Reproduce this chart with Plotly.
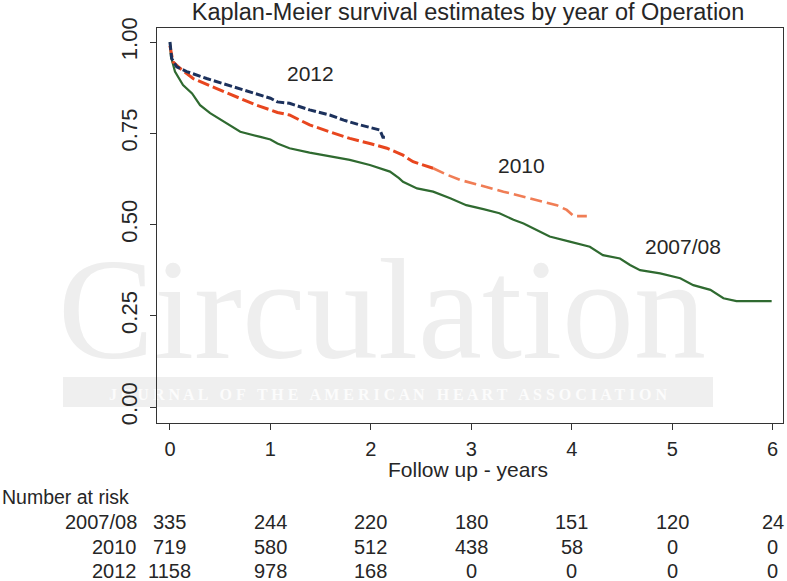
import plotly.graph_objects as go

# ---------------- data ----------------
t_0708 = [0, 0.01, 0.05, 0.13, 0.22, 0.30, 0.40, 0.53, 0.70, 0.90, 1.00, 1.07, 1.19, 1.39, 1.59,
          1.79, 1.99, 2.19, 2.28, 2.32, 2.46, 2.62, 2.79, 2.95, 3.12, 3.28, 3.42, 3.52, 3.65, 3.78,
          3.98, 4.18, 4.31, 4.48, 4.58, 4.68, 4.88, 5.08, 5.21, 5.38, 5.51, 5.64, 5.99]
s_0708 = [1.0, 0.96, 0.919, 0.882, 0.859, 0.827, 0.805, 0.782, 0.754, 0.740, 0.733, 0.722, 0.709,
          0.697, 0.686, 0.677, 0.663, 0.645, 0.627, 0.617, 0.599, 0.590, 0.572, 0.553, 0.542, 0.531,
          0.513, 0.503, 0.485, 0.467, 0.453, 0.439, 0.416, 0.407, 0.389, 0.375, 0.366, 0.353, 0.334,
          0.321, 0.298, 0.290, 0.290]

t_2010 = [0, 0.03, 0.10, 0.23, 0.46, 0.66, 0.86, 1.00, 1.07, 1.19, 1.39, 1.59, 1.79, 1.99, 2.16,
          2.28, 2.32, 2.42, 2.52, 2.62, 2.76, 2.89, 3.02, 3.15, 3.32, 3.45, 3.58, 3.72, 3.85, 3.95,
          4.02, 4.15]
s_2010 = [0.99, 0.946, 0.928, 0.900, 0.873, 0.850, 0.827, 0.814, 0.807, 0.800, 0.773, 0.754, 0.736,
          0.722, 0.709, 0.695, 0.690, 0.672, 0.663, 0.654, 0.636, 0.622, 0.613, 0.603, 0.590, 0.580,
          0.572, 0.562, 0.553, 0.540, 0.523, 0.523]

t_2012 = [0, 0.017, 0.067, 0.166, 0.365, 0.63, 0.86, 1.00, 1.07, 1.19, 1.39, 1.59, 1.73, 1.89,
          2.09, 2.12, 2.14]
s_2012 = [1.0, 0.955, 0.932, 0.919, 0.900, 0.877, 0.859, 0.846, 0.836, 0.832, 0.814, 0.800, 0.786,
          0.773, 0.759, 0.739, 0.739]

x_ticks = [0, 1, 2, 3, 4, 5, 6]
y_ticks = [0.0, 0.25, 0.5, 0.75, 1.0]
y_tick_labels = ["0.00", "0.25", "0.50", "0.75", "1.00"]

risk_groups = ["2007/08", "2010", "2012"]
risk_0708 = [335, 244, 220, 180, 151, 120, 24]
risk_2010 = [719, 580, 512, 438, 58, 0, 0]
risk_2012 = [1158, 978, 168, 0, 0, 0, 0]

curve_labels = ["2012", "2010", "2007/08"]
curve_label_x = [1.40, 3.50, 5.11]
curve_label_y = [0.915, 0.663, 0.441]

title_text = "Kaplan-Meier survival estimates by year of Operation"
xaxis_title = "Follow up - years"

# ---------------- layout geometry ----------------
W, H = 787, 581
L, R, T, B = 157, 4, 28, 158
PH = H - T - B

def py2paper(py):
    return (H - B - py) / PH

def px2paper(px):
    return (px - L) / (W - L - R)

FONT = "Liberation Sans, Arial, sans-serif"
TXT = "#262626"

fig = go.Figure()

fig.add_trace(go.Scatter(x=t_0708, y=s_0708, mode="lines",
                         line=dict(color="#2f6a30", width=2.2), showlegend=False))

split = t_2010.index(2.62)
fig.add_trace(go.Scatter(x=t_2010[:split + 1], y=s_2010[:split + 1], mode="lines",
                         line=dict(color="#e8461e", width=3, dash="12px,4px"), showlegend=False))
fig.add_trace(go.Scatter(x=t_2010[split:], y=s_2010[split:], mode="lines",
                         line=dict(color="#f07d55", width=2.6, dash="12px,5px"), showlegend=False))

fig.add_trace(go.Scatter(x=t_2012, y=s_2012, mode="lines",
                         line=dict(color="#1c315c", width=3, dash="8px,3px"), showlegend=False))

annotations = []
for lab, x, y in zip(curve_labels, curve_label_x, curve_label_y):
    annotations.append(dict(x=x, y=y, xref="x", yref="y", text=lab, showarrow=False,
                            font=dict(family=FONT, size=21, color=TXT)))

annotations.append(dict(x=px2paper(468), y=py2paper(469), xref="paper", yref="paper",
                        text=xaxis_title, showarrow=False, xanchor="center", yanchor="middle",
                        font=dict(family=FONT, size=21, color=TXT)))
annotations.append(dict(x=px2paper(0), y=py2paper(497), xref="paper", yref="paper",
                        text="Number at risk", showarrow=False, xanchor="left", yanchor="middle",
                        font=dict(family=FONT, size=19.5, color=TXT)))

row_py = [522, 547, 571]
for g, vals, rpy in zip(risk_groups, [risk_0708, risk_2010, risk_2012], row_py):
    annotations.append(dict(x=px2paper(139), y=py2paper(rpy), xref="paper", yref="paper",
                            text=g, showarrow=False, xanchor="right", yanchor="middle",
                            font=dict(family=FONT, size=20, color=TXT)))
    for xt, v in zip(x_ticks, vals):
        annotations.append(dict(x=xt, y=py2paper(rpy), xref="x", yref="paper",
                                text=str(v), showarrow=False, xanchor="center", yanchor="middle",
                                font=dict(family=FONT, size=20, color=TXT)))

# watermark (drawn below the traces)
shapes = [
    dict(type="rect", xref="paper", yref="paper", layer="below",
         x0=px2paper(63), x1=px2paper(713), y0=py2paper(407), y1=py2paper(377),
         fillcolor="#efefef", line=dict(width=0),
         label=dict(text="<b>J O U R N A L   O F   T H E   A M E R I C A N   H E A R T   A S S O C I A T I O N</b>",
                    font=dict(family="Liberation Serif, serif", size=16, color="#fcfcfc"),
                    textposition="middle center")),
    dict(type="rect", xref="paper", yref="paper", layer="below",
         x0=px2paper(60), x1=px2paper(704), y0=py2paper(348), y1=py2paper(238),
         fillcolor="rgba(0,0,0,0)", line=dict(width=0),
         label=dict(text="Circulation",
                    font=dict(family="Liberation Serif, serif", size=144, color="#eeeeee"),
                    textposition="middle center")),
]

fig.update_layout(
    width=W, height=H,
    margin=dict(l=L, r=R, t=T, b=B, pad=0),
    paper_bgcolor="white", plot_bgcolor="white",
    title=dict(text=title_text, x=px2paper(468), xref="paper", xanchor="center",
               y=1 - 12 / H, yref="container", yanchor="middle",
               font=dict(family=FONT, size=23.5, color=TXT)),
    xaxis=dict(range=[-0.129, 6.103], tickvals=x_ticks, ticktext=[str(v) for v in x_ticks],
               ticks="outside", ticklen=6, tickcolor="#333", tickwidth=1,
               showline=True, linecolor="#333", linewidth=1, mirror=True,
               showgrid=False, zeroline=False, ticklabelstandoff=2,
               tickfont=dict(family=FONT, size=20, color=TXT)),
    yaxis=dict(range=[-0.0438, 1.0384], tickvals=y_ticks, ticktext=y_tick_labels,
               ticks="outside", ticklen=6, tickcolor="#333", tickwidth=1, tickangle=-90,
               showline=True, linecolor="#333", linewidth=1, mirror=True,
               showgrid=False, zeroline=False, ticklabelstandoff=4,
               tickfont=dict(family=FONT, size=22, color=TXT)),
    annotations=annotations,
    shapes=shapes,
)

fig.write_html("out.html", config={"displayModeBar": False},
               post_script="document.body.style.margin='0';")
